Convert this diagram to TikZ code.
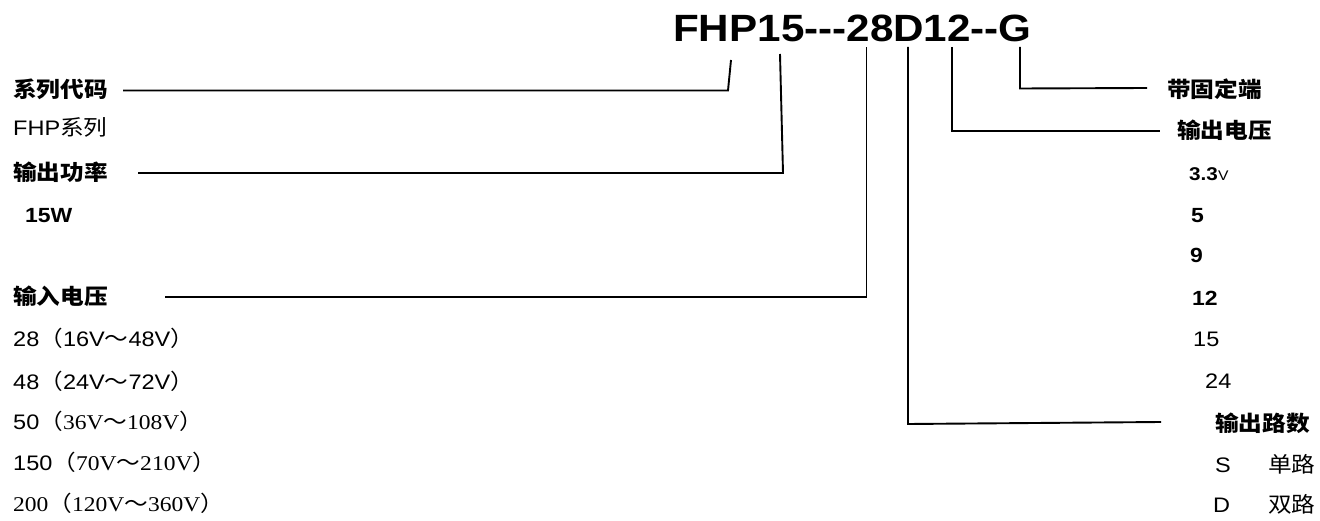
\documentclass[tikz,border=0pt]{standalone}
\usepackage{fontspec}
\setmainfont{Liberation Sans}[FakeStretch=1.12]
\newfontfamily\arl{Liberation Sans}[FakeStretch=1.12]
\newfontfamily\ttlfont{Liberation Sans}[Ligatures=TeXOff]
\newfontfamily\cjk{Noto Sans CJK SC}[FakeStretch=1.1]
\newfontfamily\tms{Liberation Serif}[FakeStretch=1.12]
\newcommand\cj[1]{{\cjk\fontsize{21.5}{22}\selectfont #1}}
\newcommand\sr[1]{{\tms\fontsize{21}{21}\selectfont #1}}
\newcommand\ar[1]{{\arl\fontsize{21}{21}\selectfont #1}}
\tikzset{
  lab/.style={anchor=base west, inner sep=0pt, font=\cjk\bfseries\fontsize{21.5}{22}\selectfont},
  txt/.style={anchor=base west, inner sep=0pt, font=\arl\fontsize{21}{21}\selectfont},
  btxt/.style={anchor=base west, inner sep=0pt, font=\arl\bfseries\fontsize{20.5}{21}\selectfont},
  conn/.style={line width=1.9pt, line join=miter},
}
\begin{document}
\begin{tikzpicture}[x=1pt,y=-1pt]
\useasboundingbox (0,0) rectangle (1320,521);
% title
\node[anchor=base west, inner sep=0pt] (title) at (673,42)
  {\scalebox{1.11}[1]{\ttlfont\bfseries\fontsize{38}{38}\selectfont FHP15---28D12--G}};
% left labels
\node[lab] (l1) at (13,98) {系列代码};
\node[txt] (l1a) at (13,136) {\ar{FHP}\cj{系列}};
\node[lab] (l2) at (13,181) {输出功率};
\node[btxt] (l2a) at (25,223) {15W};
\node[lab] (l3) at (13,305) {输入电压};
\node[txt] (r1) at (13,347) {\ar{28}\cj{（}\ar{16V}\cj{～}\ar{48V}\cj{）}};
\node[txt] (r2) at (13,389) {\ar{48}\cj{（}\ar{24V}\cj{～}\ar{72V}\cj{）}};
\node[txt] (r3) at (13,429) {\ar{50}\cj{（}\sr{36V}\cj{～}\sr{108V}\cj{）}};
\node[txt] (r4) at (13,470) {\ar{150}\cj{（}\sr{70V}\cj{～}\sr{210V}\cj{）}};
\node[txt] (r5) at (13,511) {\sr{200}\cj{（}\sr{120V}\cj{～}\sr{360V}\cj{）}};
% right labels
\node[lab] (g1) at (1167,98) {带固定端};
\node[lab] (v1) at (1177,139) {输出电压};
\node[btxt] (v2) at (1189,181) {{\fontsize{18.5}{19}\selectfont 3.3}{\mdseries\fontsize{14}{14}\selectfont V}};
\node[btxt] (v3) at (1191,223) {5};
\node[btxt] (v4) at (1190,263) {9};
\node[btxt] (v5) at (1192,306) {12};
\node[txt] (v6) at (1193,347) {15};
\node[txt] (v7) at (1205,388) {24};
\node[lab] (d1) at (1215,431) {输出路数};
\node[txt] (d2) at (1215,472) {S};
\node[txt] (d2b) at (1268,472) {\cj{单路}};
\node[txt] (d3) at (1213,512) {D};
\node[txt] (d3b) at (1268,512) {\cj{双路}};
% connector points
\coordinate (a0) at (123,90.5);
\coordinate (a1) at (728,90.5);
\coordinate (a2) at (731,60);
\coordinate (b0) at (138,173);
\coordinate (b1) at (783,173);
\coordinate (b2) at (780,54);
\coordinate (c0) at (165,297);
\coordinate (c1) at (866.5,297);
\coordinate (c2) at (866.5,47);
\coordinate (d0) at (908,47);
\coordinate (dd1) at (908,424);
\coordinate (dd2) at (1161,422);
\coordinate (e0) at (952,47);
\coordinate (e1) at (952,131);
\coordinate (e2) at (1160,131);
\coordinate (f0) at (1020,47);
\coordinate (f1) at (1020,88.5);
\coordinate (f2) at (1147,88);
\draw[conn] (a0) -- (a1) -- (a2);
\draw[conn] (b0) -- (b1) -- (b2);
\draw[conn] (c0) -- (c1) -- (c2);
\draw[conn] (d0) -- (dd1) -- (dd2);
\draw[conn] (e0) -- (e1) -- (e2);
\draw[conn] (f0) -- (f1) -- (f2);
\end{tikzpicture}
\end{document}
